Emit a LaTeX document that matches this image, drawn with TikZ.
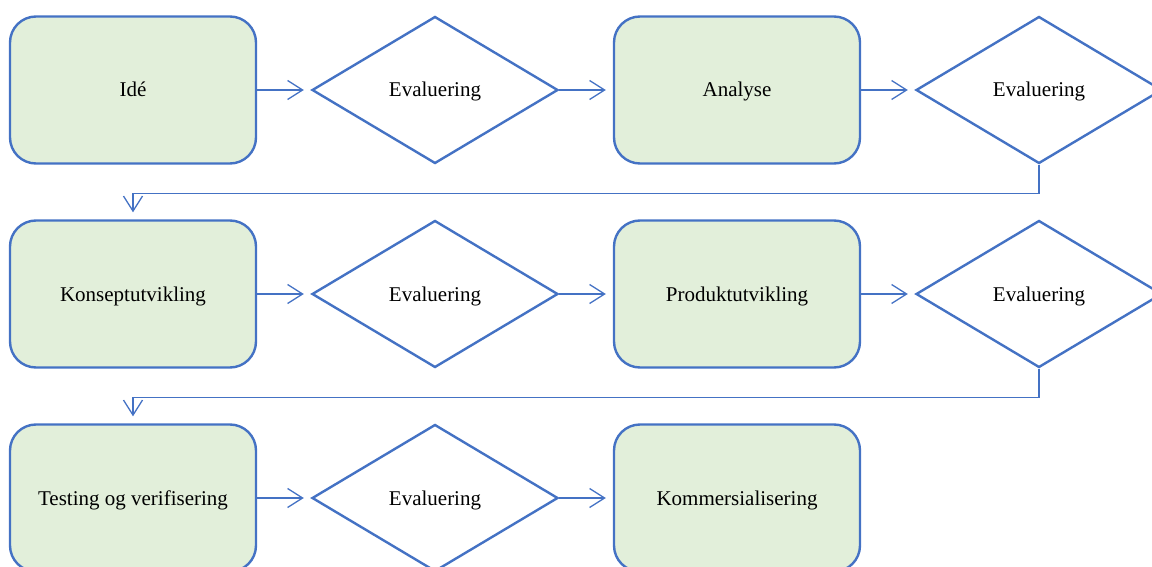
\documentclass[tikz,border=0pt]{standalone}
\usepackage{fontspec}
\setmainfont{Liberation Serif}
\usetikzlibrary{arrows.meta,shapes.geometric}
\definecolor{blue1}{RGB}{68,114,196}
\definecolor{green1}{RGB}{226,239,218}

\begin{document}
\begin{tikzpicture}[x=1pt,y=-1pt,
  stage/.style={draw=blue1, line width=2.4pt, fill=green1, rounded corners=26pt,
    minimum width=246pt, minimum height=147pt, inner sep=0pt,
    text height=14pt, text depth=0pt},
  check/.style={draw=blue1, line width=2.4pt, fill=white, diamond, aspect=1.67,
    minimum width=246pt, minimum height=147pt, inner sep=0pt,
    text height=14pt, text depth=0pt},
  link/.style={draw=blue1, line width=1.3pt, shorten >=7pt,
    -{Straight Barb[length=15pt,width=19pt,line width=1.3pt]}},
  every node/.append style={font=\fontsize{21}{25}\selectfont}]
\useasboundingbox (0,0) rectangle (1152,567);

% Row 1
\node[stage] (idea) at (133,90) {Idé};
\node[check] (eval1) at (435,90) {Evaluering};
\node[stage] (analysis) at (737,90) {Analyse};
\node[check] (eval2) at (1039,90) {Evaluering};

% Row 2
\node[stage] (concept) at (133,294) {Konseptutvikling};
\node[check] (eval3) at (435,294) {Evaluering};
\node[stage] (product) at (737,294) {Produktutvikling};
\node[check] (eval4) at (1039,294) {Evaluering};

% Row 3
\node[stage] (test) at (133,498) {Testing og verifisering};
\node[check] (eval5) at (435,498) {Evaluering};
\node[stage] (commerc) at (737,498) {Kommersialisering};

% arrows along the rows
\foreach \a/\b in {idea/eval1,eval1/analysis,analysis/eval2,
  concept/eval3,eval3/product,product/eval4,test/eval5,eval5/commerc}
  \draw[link] (\a.east) -- (\b.west);

% wrap to next row
\draw[link] (eval2.south) -- ++(0,29) -| (concept.north);
\draw[link] (eval4.south) -- ++(0,29) -| (test.north);

\end{tikzpicture}
\end{document}
